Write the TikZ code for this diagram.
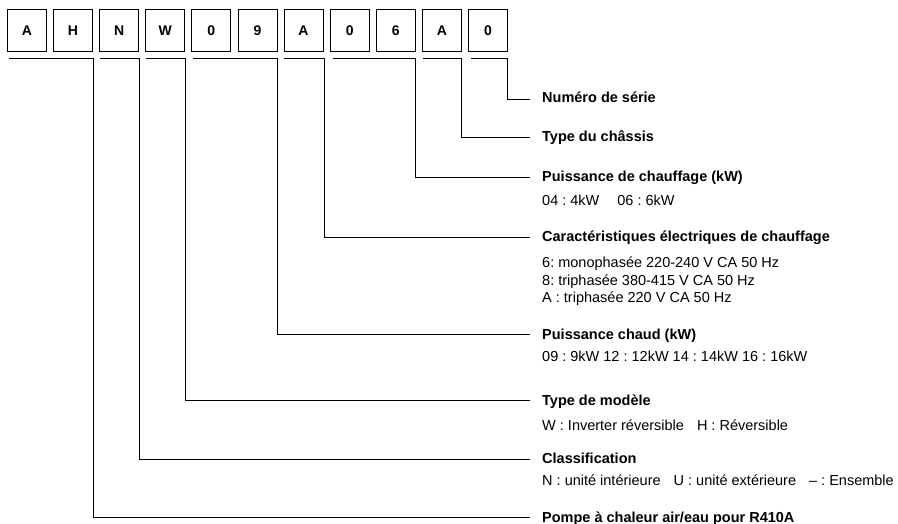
\documentclass[tikz,border=0pt]{standalone}
\usepackage{fontspec}
\setmainfont{Liberation Sans}
\usetikzlibrary{calc}
\frenchspacing
\tikzset{
  cbox/.style={draw, line width=0.9pt, minimum width=39pt, minimum height=42pt, inner sep=0pt, font=\bfseries\fontsize{14}{16}\selectfont, anchor=north west},
  conn/.style={line width=0.9pt},
  ttl/.style={anchor=base west, inner sep=0pt, font=\bfseries\fontsize{14.5}{17}\selectfont},
  sub/.style={anchor=base west, inner sep=0pt, font=\fontsize{14.5}{17}\selectfont},
}
\begin{document}
\begin{tikzpicture}[x=1pt,y={(0,-1pt)}]
\useasboundingbox (0,0) rectangle (898,524);
% code boxes
\foreach \c [count=\i from 0] in {A,H,N,W,0,9,A,0,6,A,0}{
  \node[cbox] (b\i) at ({7+46.1*\i},9) {\c};
}
% label titles
\node[ttl] (t0) at (542,103) {Numéro de série};
\node[ttl] (t1) at (542,142) {Type du châssis};
\node[ttl] (t2) at (542,182) {Puissance de chauffage (kW)};
\node[sub] (s2) at (542,206) {04 : 4kW\hspace{18pt}06 : 6kW};
\node[ttl] (t3) at (542,242) {Caractéristiques électriques de chauffage};
\node[sub] (s3a) at (542,268) {6: monophasée 220-240 V CA 50 Hz};
\node[sub] (s3b) at (542,285) {8: triphasée 380-415 V CA 50 Hz};
\node[sub] (s3c) at (542,302) {A : triphasée 220 V CA 50 Hz};
\node[ttl] (t4) at (542,339) {Puissance chaud (kW)};
\node[sub] (s4) at (542,361) {09 : 9kW 12 : 12kW 14 : 14kW 16 : 16kW};
\node[ttl] (t5) at (542,405) {Type de modèle};
\node[sub] (s5) at (542,430) {W : Inverter réversible\hspace{13pt}H : Réversible};
\node[ttl] (t6) at (542,463) {Classification};
\node[sub] (s6) at (542,485) {N : unité intérieure\hspace{13pt}U : unité extérieure\hspace{13pt}– : Ensemble};
\node[ttl] (t7) at (542,522) {Pompe à chaleur air/eau pour R410A};
% line end points
\foreach \k/\y in {0/99,1/137,2/177,3/237,4/334,5/400,6/459,7/517}{
  \coordinate (e\k) at (530,\y);
}
% brackets
\draw[conn] ($(b10.south west)+(3,7)$) -| ($(b10.south east)+(0,7)$) |- (e0);
\draw[conn] ($(b9.south west)+(1,7)$) -| ($(b9.south east)+(0,7)$) |- (e1);
\draw[conn] ($(b7.south west)+(3,7)$) -| ($(b8.south east)+(0,7)$) |- (e2);
\draw[conn] ($(b6.south west)+(0,7)$) -| ($(b6.south east)+(1,7)$) |- (e3);
\draw[conn] ($(b4.south west)+(2,7)$) -| ($(b5.south east)+(0,7)$) |- (e4);
\draw[conn] ($(b3.south west)+(1,7)$) -| ($(b3.south east)+(0,7)$) |- (e5);
\draw[conn] ($(b2.south west)+(1,7)$) -| ($(b2.south east)+(0,7)$) |- (e6);
\draw[conn] ($(b0.south west)+(2,7)$) -| ($(b1.south east)+(0,7)$) |- (e7);
\end{tikzpicture}
\end{document}
